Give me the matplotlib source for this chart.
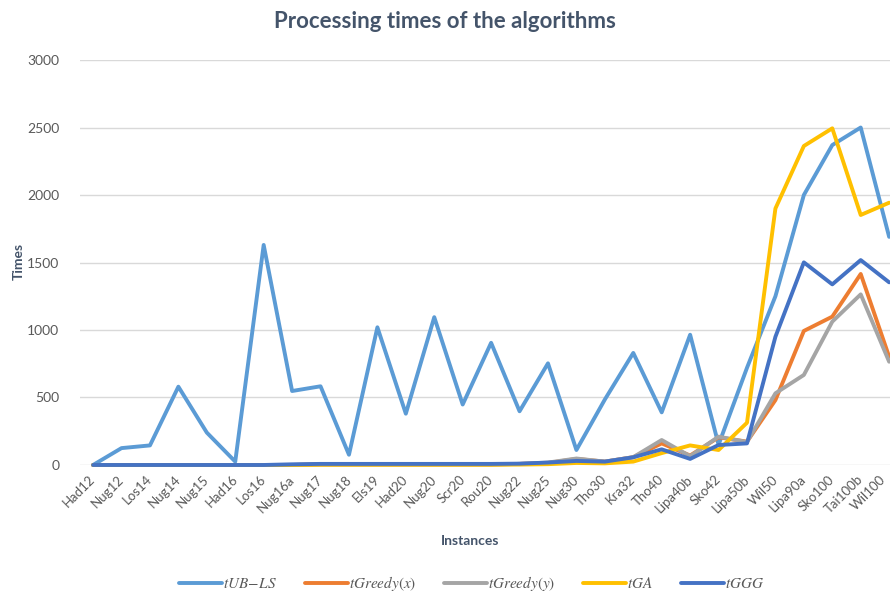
import numpy as np
import matplotlib
matplotlib.use("Agg")
import matplotlib.pyplot as plt
import matplotlib.transforms as mtransforms

plt.rcParams['font.family'] = ['Lato', 'DejaVu Sans']
plt.rcParams['mathtext.fontset'] = 'stix'

# instances on the x axis
instances = ["Had12", "Nug12", "Los14", "Nug14", "Nug15", "Had16", "Los16", "Nug16a",
             "Nug17", "Nug18", "Els19", "Had20", "Nug20", "Scr20", "Rou20", "Nug22",
             "Nug25", "Nug30", "Tho30", "Kra32", "Tho40", "Lipa40b", "Sko42", "Lipa50b",
             "Wil50", "Lipa90a", "Sko100", "Tai100b", "Wil100"]

# processing times
t_ub_ls = [0, 125, 145, 580, 240, 25, 1630, 548, 583, 76, 1020, 380, 1095, 448, 905,
           398, 753, 111, 485, 830, 390, 965, 150, 720, 1250, 2000, 2370, 2500, 1690]
t_greedy_x = [0, 0, 0, 0, 0, 0, 0, 0, 4, 4, 4, 4, 4, 4, 4, 8, 15, 45, 25, 58,
              160, 70, 205, 173, 481, 993, 1099, 1415, 802]
t_greedy_y = [0, 0, 0, 0, 0, 0, 0, 0, 4, 4, 4, 4, 4, 4, 4, 8, 18, 48, 25, 58,
              185, 65, 210, 170, 531, 667, 1062, 1264, 765]
t_ga = [0, 0, 0, 0, 0, 0, 0, 0, 2, 2, 2, 2, 2, 2, 2, 3, 6, 15, 12, 25,
        88, 145, 111, 313, 1900, 2363, 2494, 1852, 1943]
t_ggg = [0, 0, 0, 0, 0, 0, 0, 5, 8, 8, 8, 8, 8, 8, 8, 10, 18, 30, 25, 57,
         116, 45, 148, 160, 950, 1501, 1338, 1518, 1353]

series = [
    (r"$tUB\!-\!LS$", t_ub_ls, "#5B9BD5"),
    (r"$tGreedy(x)$", t_greedy_x, "#ED7D31"),
    (r"$tGreedy(y)$", t_greedy_y, "#A5A5A5"),
    (r"$tGA$", t_ga, "#FFC000"),
    (r"$tGGG$", t_ggg, "#4472C4"),
]

fig = plt.figure(figsize=(8.9, 6.02), dpi=100)
ax = fig.add_axes([0.0899, 0.2276, 0.9101, 0.6727])

x = np.arange(len(instances))
for label, vals, col in series:
    ax.plot(x, vals, color=col, lw=2.8, label=label, solid_joinstyle='round',
            solid_capstyle='round', clip_on=False)

ax.set_xlim(-0.46, 28.03)
ax.set_ylim(0, 3000)
ax.set_yticks(np.arange(0, 3001, 500))
ax.yaxis.grid(True, color="#D9D9D9", lw=1.0)
ax.set_axisbelow(True)
for s in ax.spines.values():
    s.set_visible(False)
ax.tick_params(axis='both', length=0, colors="#595959", labelsize=10)
ax.tick_params(axis='y', pad=15)
ax.set_xticks(x)
ax.set_xticklabels(instances, rotation=45, ha='right', rotation_mode='anchor',
                   fontsize=9.5)
ax.tick_params(axis='x', pad=6)
# nudge the rotated labels a little left; the last one more so it stays inside
labels = ax.get_xticklabels()
for i, lab in enumerate(labels):
    dx = -10 if i == len(labels) - 1 else -4
    lab.set_transform(lab.get_transform() +
                      mtransforms.ScaledTranslation(dx / 100, 0, fig.dpi_scale_trans))

fig.text(0.5, 0.965, "Processing times of the algorithms", ha='center', va='center',
         fontsize=16, fontweight='bold', color="#44546A")
fig.text(0.528, 0.101, "Instances", ha='center', va='center',
         fontsize=10, fontweight='bold', color="#44546A")
fig.text(0.021, 0.565, "Times", ha='center', va='center', rotation=90,
         fontsize=10, fontweight='bold', color="#44546A")

fig.legend(loc='center', bbox_to_anchor=(0.53, 0.03), ncol=5, frameon=False,
           fontsize=11, handlelength=2.8, columnspacing=1.8, handletextpad=0.1,
           labelcolor="#595959")

fig.savefig("out.png", dpi=100)
